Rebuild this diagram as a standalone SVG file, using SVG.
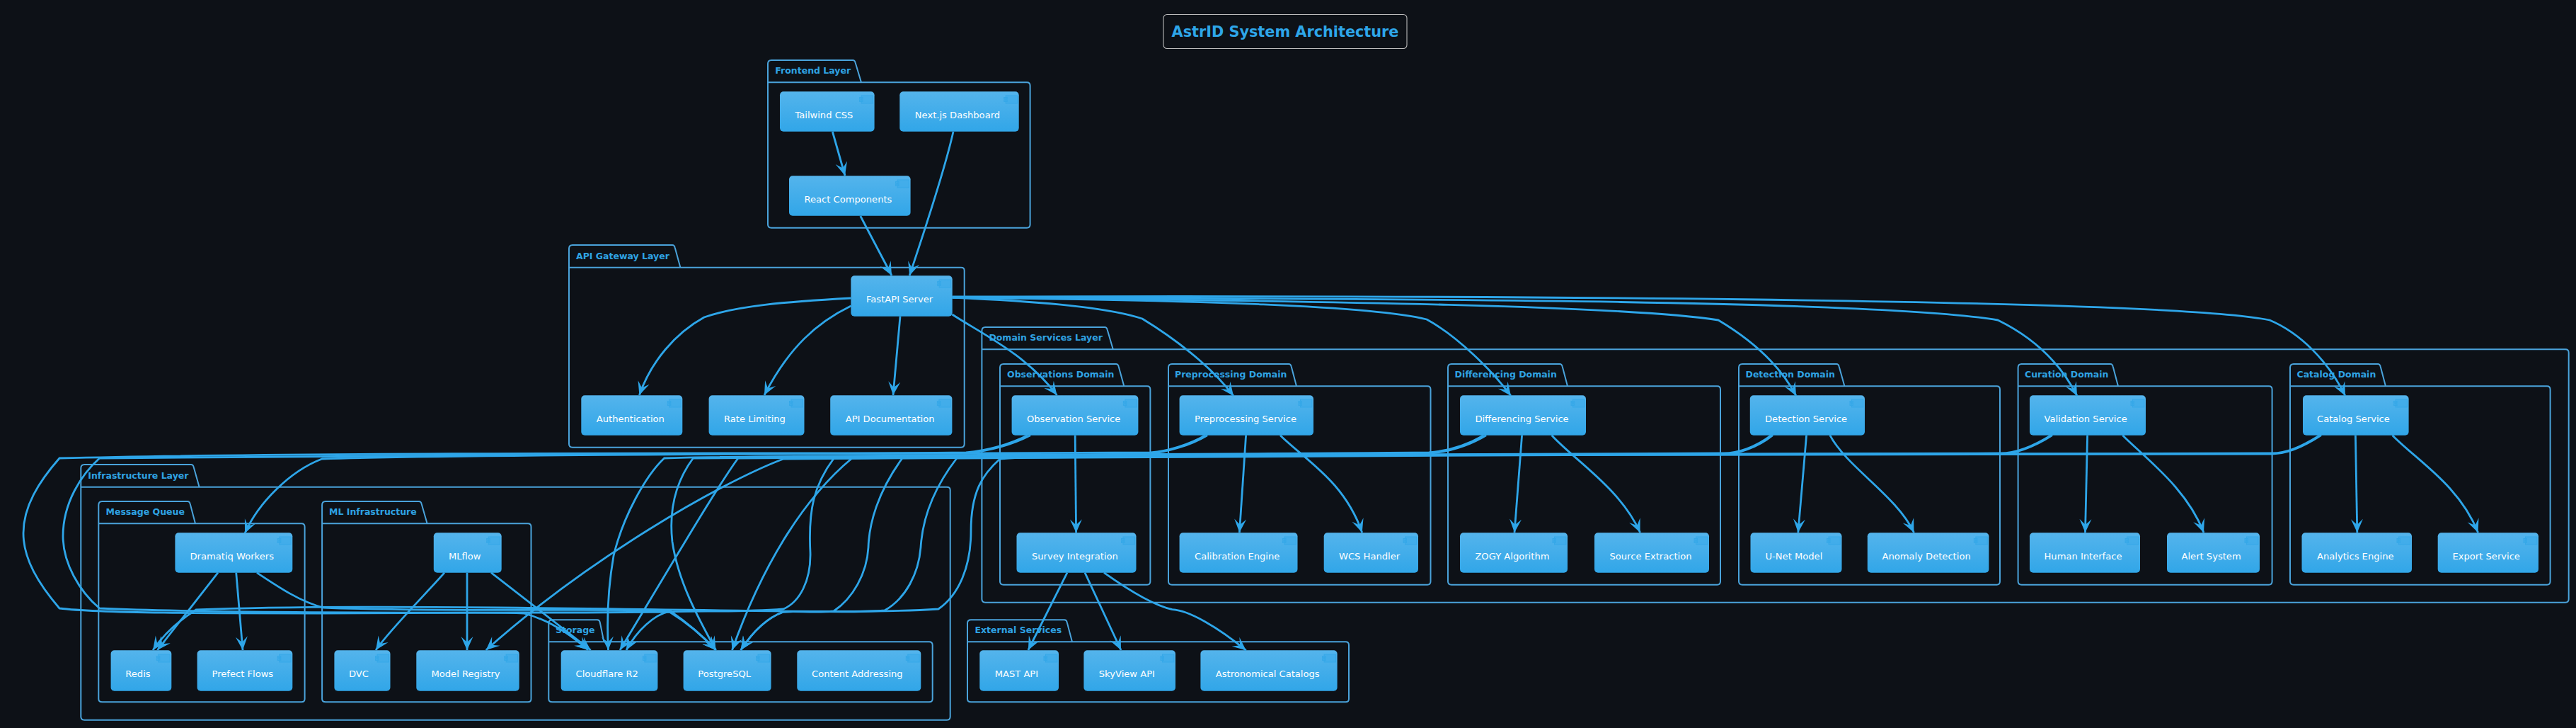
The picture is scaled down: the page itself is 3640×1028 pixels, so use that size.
<svg xmlns="http://www.w3.org/2000/svg" xmlns:xlink="http://www.w3.org/1999/xlink" width="3640" height="1028" viewBox="0 0 3640 1028">
<style>
.bg{fill:#0d1117}
.pk{fill:none;stroke:#4aa3db;stroke-width:2}
.pl{font:bold 12.5px "DejaVu Sans",sans-serif;fill:#2fa3e3}
.n{fill:url(#ng);rx:5px;ry:5px}
.t{font:13.1px "DejaVu Sans",sans-serif;fill:#fff}
.e{fill:none;stroke:#2ea6e9;stroke-width:2.8;marker-end:url(#arrow)}
.ttl{font:bold 20.8px "DejaVu Sans",sans-serif;fill:#2ea6e9;text-anchor:middle}
.tb{fill:none;stroke:#bbb;stroke-width:1.1}
</style>
<defs>
<linearGradient id="ng" x1="0" y1="0" x2="0" y2="1"><stop offset="0" stop-color="#54b4ec"/><stop offset="1" stop-color="#31a6e8"/></linearGradient>
<marker id="arrow" markerUnits="userSpaceOnUse" markerWidth="24" markerHeight="20" refX="22" refY="10" orient="auto"><path d="M22,10 L3,1.5 L11,10 L3,18.5 Z" fill="#2ea6e9"/></marker>
<g id="ic" fill="#3aa9e9" fill-opacity="0.55" stroke="#36a8e8" stroke-width="1"><rect x="-18.5" y="5.7" width="16.3" height="11"/><rect x="-21" y="8.2" width="4.5" height="2.4"/><rect x="-21" y="11.7" width="4.5" height="2.4"/></g>
</defs>
<rect class="bg" width="3640" height="1028"/>
<g id="title"><rect class="tb" x="1644" y="20.5" width="344" height="48" rx="5"/><text class="ttl" x="1816" y="51.7">AstrID System Architecture</text></g>

<g id="packages">
<g id="pkg-frontend"><path class="pk" d="M1085,116.3V90Q1085,85 1090,85H1205Q1208,85 1208.8,89L1217,116.3M1085,116.3H1451Q1455.6,116.3 1455.6,121V317Q1455.6,321.7 1451,321.7H1090Q1085,321.7 1085,317Z"/><text class="pl" x="1095.3" y="104.3">Frontend Layer</text></g>
<g id="pkg-api"><path class="pk" d="M804,377.7V351Q804,346 809,346H950Q953,346 953.8,350L961.4,377.7M804,377.7H1358Q1362.7,377.7 1362.7,382V627Q1362.7,631.7 1358,631.7H809Q804,631.7 804,627Z"/><text class="pl" x="814" y="365.7">API Gateway Layer</text></g>
<g id="pkg-domain"><path class="pk" d="M1387.4,493.3V467Q1387.4,462 1392.4,462H1561Q1564,462 1564.8,466L1572.8,493.3M1387.4,493.3H3625Q3629.7,493.3 3629.7,498V846Q3629.7,850.7 3625,850.7H1392.4Q1387.4,850.7 1387.4,846Z"/><text class="pl" x="1397.4" y="481.3">Domain Services Layer</text></g>
<g id="pkg-obs"><path class="pk" d="M1413,545.3V519Q1413,514 1418,514H1577Q1580,514 1580.8,518L1588.3,545.3M1413,545.3H1621Q1625.4,545.3 1625.4,550V821Q1625.4,825.7 1621,825.7H1418Q1413,825.7 1413,821Z"/><text class="pl" x="1423" y="533.3">Observations Domain</text></g>
<g id="pkg-pre"><path class="pk" d="M1651,545.3V519Q1651,514 1656,514H1821Q1824,514 1824.8,518L1832,545.3M1651,545.3H2017Q2021.5,545.3 2021.5,550V821Q2021.5,825.7 2017,825.7H1656Q1651,825.7 1651,821Z"/><text class="pl" x="1660" y="533.3">Preprocessing Domain</text></g>
<g id="pkg-diff"><path class="pk" d="M2046,545.3V519Q2046,514 2051,514H2204Q2207,514 2207.8,518L2215,545.3M2046,545.3H2426.5Q2431,545.3 2431,550V821Q2431,825.7 2426.5,825.7H2051Q2046,825.7 2046,821Z"/><text class="pl" x="2055.5" y="533.3">Differencing Domain</text></g>
<g id="pkg-det"><path class="pk" d="M2457,545.3V519Q2457,514 2462,514H2595Q2598,514 2598.8,518L2606.4,545.3M2457,545.3H2821.5Q2826,545.3 2826,550V821Q2826,825.7 2821.5,825.7H2462Q2457,825.7 2457,821Z"/><text class="pl" x="2466.5" y="533.3">Detection Domain</text></g>
<g id="pkg-cur"><path class="pk" d="M2851.6,545.3V519Q2851.6,514 2856.6,514H2982Q2985,514 2985.8,518L2993,545.3M2851.6,545.3H3206Q3210.6,545.3 3210.6,550V821Q3210.6,825.7 3206,825.7H2856.6Q2851.6,825.7 2851.6,821Z"/><text class="pl" x="2861" y="533.3">Curation Domain</text></g>
<g id="pkg-cat"><path class="pk" d="M3236,545.3V519Q3236,514 3241,514H3360Q3363,514 3363.8,518L3371,545.3M3236,545.3H3599Q3603.6,545.3 3603.6,550V821Q3603.6,825.7 3599,825.7H3241Q3236,825.7 3236,821Z"/><text class="pl" x="3245.5" y="533.3">Catalog Domain</text></g>
<g id="pkg-infra"><path class="pk" d="M114.3,687.7V661Q114.3,656 119.3,656H270Q273,656 273.8,660L281.6,687.7M114.3,687.7H1338Q1342.7,687.7 1342.7,692V1012Q1342.7,1016.7 1338,1016.7H119.3Q114.3,1016.7 114.3,1012Z"/><text class="pl" x="124.3" y="675.7">Infrastructure Layer</text></g>
<g id="pkg-mq"><path class="pk" d="M139.3,739.3V713Q139.3,708 144.3,708H265Q268,708 268.8,712L276,739.3M139.3,739.3H426Q430.6,739.3 430.6,744V987Q430.6,991.3 426,991.3H144.3Q139.3,991.3 139.3,987Z"/><text class="pl" x="149.5" y="727.3">Message Queue</text></g>
<g id="pkg-ml"><path class="pk" d="M455.1,739.3V713Q455.1,708 460.1,708H592Q595,708 595.8,712L603.6,739.3M455.1,739.3H746Q750.5,739.3 750.5,744V987Q750.5,991.3 746,991.3H460.1Q455.1,991.3 455.1,987Z"/><text class="pl" x="465" y="727.3">ML Infrastructure</text></g>
<g id="pkg-storage"><path class="pk" d="M775.3,906.3V880Q775.3,875.3 780.3,875.3H844Q847,875.3 847.8,879L853.4,906.3M775.3,906.3H1313Q1317.7,906.3 1317.7,911V987Q1317.7,991.3 1313,991.3H780.3Q775.3,991.3 775.3,987Z"/><text class="pl" x="785" y="894.3">Storage</text></g>
<g id="pkg-ext"><path class="pk" d="M1367,906.3V880Q1367,875.3 1372,875.3H1504Q1507,875.3 1507.8,879L1515,906.3M1367,906.3H1901.5Q1906,906.3 1906,911V987Q1906,991.3 1901.5,991.3H1372Q1367,991.3 1367,987Z"/><text class="pl" x="1377.5" y="894.3">External Services</text></g>
</g>

<g id="nodes">
<g id="tailwind"><rect class="n" x="1102" y="129.3" width="133.6" height="56.4"/><use href="#ic" x="1235.6" y="129.3"/><text class="t" x="1123.4" y="167.3">Tailwind CSS</text></g>
<g id="nextjs"><rect class="n" x="1271.3" y="129.3" width="168.4" height="56.4"/><use href="#ic" x="1439.7" y="129.3"/><text class="t" x="1292.8" y="167.3">Next.js Dashboard</text></g>
<g id="react"><rect class="n" x="1115" y="248.3" width="171.6" height="56.4"/><use href="#ic" x="1286.6" y="248.3"/><text class="t" x="1136.5" y="286.3">React Components</text></g>
<g id="fastapi"><rect class="n" x="1202.4" y="389.3" width="143.3" height="57.4"/><use href="#ic" x="1345.7" y="389.3"/><text class="t" x="1224" y="427.3">FastAPI Server</text></g>
<g id="auth"><rect class="n" x="821.3" y="558.3" width="143" height="56.4"/><use href="#ic" x="964.3" y="558.3"/><text class="t" x="842.8" y="596.3">Authentication</text></g>
<g id="rate"><rect class="n" x="1001.6" y="558.3" width="134.9" height="56.4"/><use href="#ic" x="1136.5" y="558.3"/><text class="t" x="1023" y="596.3">Rate Limiting</text></g>
<g id="apidoc"><rect class="n" x="1173.2" y="558.3" width="172.2" height="56.4"/><use href="#ic" x="1345.4" y="558.3"/><text class="t" x="1194.7" y="596.3">API Documentation</text></g>
<g id="obs"><rect class="n" x="1429.6" y="558.3" width="178.8" height="56.4"/><use href="#ic" x="1608.4" y="558.3"/><text class="t" x="1451" y="596.3">Observation Service</text></g>
<g id="survey"><rect class="n" x="1436.5" y="752.3" width="169" height="56.4"/><use href="#ic" x="1605.5" y="752.3"/><text class="t" x="1458" y="790.3">Survey Integration</text></g>
<g id="pre"><rect class="n" x="1666.6" y="558.3" width="189.4" height="56.4"/><use href="#ic" x="1856" y="558.3"/><text class="t" x="1688" y="596.3">Preprocessing Service</text></g>
<g id="calib"><rect class="n" x="1666.6" y="752.3" width="166.9" height="56.4"/><use href="#ic" x="1833.5" y="752.3"/><text class="t" x="1688" y="790.3">Calibration Engine</text></g>
<g id="wcs"><rect class="n" x="1870.7" y="752.3" width="133.3" height="56.4"/><use href="#ic" x="2004" y="752.3"/><text class="t" x="1892" y="790.3">WCS Handler</text></g>
<g id="diff"><rect class="n" x="2063" y="558.3" width="178" height="56.4"/><use href="#ic" x="2241" y="558.3"/><text class="t" x="2084.4" y="596.3">Differencing Service</text></g>
<g id="zogy"><rect class="n" x="2063" y="752.3" width="152" height="56.4"/><use href="#ic" x="2215" y="752.3"/><text class="t" x="2084.4" y="790.3">ZOGY Algorithm</text></g>
<g id="source"><rect class="n" x="2253" y="752.3" width="162" height="56.4"/><use href="#ic" x="2415" y="752.3"/><text class="t" x="2274.5" y="790.3">Source Extraction</text></g>
<g id="det"><rect class="n" x="2472.8" y="558.3" width="162.2" height="56.4"/><use href="#ic" x="2635" y="558.3"/><text class="t" x="2494" y="596.3">Detection Service</text></g>
<g id="unet"><rect class="n" x="2473.5" y="752.3" width="129" height="56.4"/><use href="#ic" x="2602.5" y="752.3"/><text class="t" x="2494.5" y="790.3">U-Net Model</text></g>
<g id="anomaly"><rect class="n" x="2638.8" y="752.3" width="171.6" height="56.4"/><use href="#ic" x="2810.4" y="752.3"/><text class="t" x="2659.5" y="790.3">Anomaly Detection</text></g>
<g id="valid"><rect class="n" x="2868" y="558.3" width="164" height="56.4"/><use href="#ic" x="3032" y="558.3"/><text class="t" x="2888.5" y="596.3">Validation Service</text></g>
<g id="human"><rect class="n" x="2868" y="752.3" width="156" height="56.4"/><use href="#ic" x="3024" y="752.3"/><text class="t" x="2888.5" y="790.3">Human Interface</text></g>
<g id="alert"><rect class="n" x="3062" y="752.3" width="131" height="56.4"/><use href="#ic" x="3193" y="752.3"/><text class="t" x="3082.5" y="790.3">Alert System</text></g>
<g id="catalog"><rect class="n" x="3254" y="558.3" width="149.6" height="56.4"/><use href="#ic" x="3403.6" y="558.3"/><text class="t" x="3274" y="596.3">Catalog Service</text></g>
<g id="analytics"><rect class="n" x="3252.5" y="752.3" width="155.5" height="56.4"/><use href="#ic" x="3408" y="752.3"/><text class="t" x="3274" y="790.3">Analytics Engine</text></g>
<g id="export"><rect class="n" x="3444.7" y="752.3" width="142.3" height="56.4"/><use href="#ic" x="3587" y="752.3"/><text class="t" x="3465.5" y="790.3">Export Service</text></g>
<g id="dramatiq"><rect class="n" x="247.4" y="752.3" width="165.9" height="56.4"/><use href="#ic" x="413.3" y="752.3"/><text class="t" x="268.5" y="790.3">Dramatiq Workers</text></g>
<g id="redis"><rect class="n" x="156.6" y="918.3" width="85.7" height="57.4"/><use href="#ic" x="242.3" y="918.3"/><text class="t" x="177.3" y="956.3">Redis</text></g>
<g id="prefect"><rect class="n" x="278.6" y="918.3" width="134.7" height="57.4"/><use href="#ic" x="413.3" y="918.3"/><text class="t" x="299.5" y="956.3">Prefect Flows</text></g>
<g id="mlflow"><rect class="n" x="612.8" y="752.3" width="95.9" height="56.4"/><use href="#ic" x="708.7" y="752.3"/><text class="t" x="634" y="790.3">MLflow</text></g>
<g id="dvc"><rect class="n" x="472.4" y="918.3" width="79.1" height="57.4"/><use href="#ic" x="551.5" y="918.3"/><text class="t" x="493" y="956.3">DVC</text></g>
<g id="registry"><rect class="n" x="588.3" y="918.3" width="145.4" height="57.4"/><use href="#ic" x="733.7" y="918.3"/><text class="t" x="609.5" y="956.3">Model Registry</text></g>
<g id="r2"><rect class="n" x="792.7" y="918.3" width="136.7" height="57.4"/><use href="#ic" x="929.4" y="918.3"/><text class="t" x="813.5" y="956.3">Cloudflare R2</text></g>
<g id="postgres"><rect class="n" x="965.6" y="918.3" width="124" height="57.4"/><use href="#ic" x="1089.6" y="918.3"/><text class="t" x="986.3" y="956.3">PostgreSQL</text></g>
<g id="content"><rect class="n" x="1126.3" y="918.3" width="175" height="57.4"/><use href="#ic" x="1301.3" y="918.3"/><text class="t" x="1147" y="956.3">Content Addressing</text></g>
<g id="mast"><rect class="n" x="1384.3" y="918.3" width="111.7" height="57.4"/><use href="#ic" x="1496" y="918.3"/><text class="t" x="1405.7" y="956.3">MAST API</text></g>
<g id="skyview"><rect class="n" x="1531.4" y="918.3" width="129.6" height="57.4"/><use href="#ic" x="1661" y="918.3"/><text class="t" x="1552.8" y="956.3">SkyView API</text></g>
<g id="astro"><rect class="n" x="1696.4" y="918.3" width="193.2" height="57.4"/><use href="#ic" x="1889.6" y="918.3"/><text class="t" x="1717.8" y="956.3">Astronomical Catalogs</text></g>
</g>

<g id="connectors">
<path class="e" d="M1176.4,186L1194,248"/>
<path class="e" d="M1347,186C1335,240 1305,330 1285.2,389"/>
<path class="e" d="M1215.8,305L1260,389"/>
<path class="e" d="M1202.4,421C1110,426 1040,432 995,448C955,470 920,510 903.4,558"/>
<path class="e" d="M1202.4,432C1155,455 1115,490 1080,558"/>
<path class="e" d="M1272,446.7L1262,558"/>
<path class="e" d="M1345.5,444C1385,470 1450,500 1493.5,558"/>
<path class="e" d="M1345.5,420C1450,425 1560,432 1614,450C1655,475 1710,515 1743,559"/>
<path class="e" d="M1345.5,420C1700,424 1940,432 2016,451C2060,475 2110,525 2135,559"/>
<path class="e" d="M1345.5,420C1900,425 2300,432 2428,452C2475,480 2515,515 2538,559"/>
<path class="e" d="M1345.5,420C1900,422 2650,422 2823,452C2870,475 2910,510 2935,559"/>
<path class="e" d="M1345.5,419C2000,417 3050,420 3207,452C3250,470 3290,510 3314,559"/>

<path class="e" d="M1519.2,614.7L1520.6,752.3"/>
<path class="e" d="M1508,808.7L1452.9,918"/>
<path class="e" d="M1533,808.7L1584,918"/>
<path class="e" d="M1560,808.7C1590,830 1630,855 1656.4,860.7C1680,862 1720,885 1760.7,918.3"/>
<path class="e" d="M1760.6,614.7L1751.4,752"/>
<path class="e" d="M1809,614.7C1845,650 1900,680 1924.7,752"/>
<path class="e" d="M2150.6,614.7L2140,752"/>
<path class="e" d="M2192.7,614.7C2225,650 2290,690 2317.6,752"/>
<path class="e" d="M2552.6,614.7L2540.8,752"/>
<path class="e" d="M2585.8,614.7C2610,660 2680,700 2704.5,752"/>
<path class="e" d="M2949.6,614.7L2946.5,752"/>
<path class="e" d="M2999.4,614.7C3035,650 3090,690 3114,752"/>
<path class="e" d="M3328.4,614.7L3330.8,752"/>
<path class="e" d="M3380.6,614.7C3415,650 3475,685 3501.6,752"/>

<path class="e" d="M308,808.7L222.4,918"/>
<path class="e" d="M333.7,808.7L343,918"/>
<path class="e" d="M628,808.7C610,830 550,890 531,918"/>
<path class="e" d="M660,808.7V918"/>
<path class="e" d="M694,808.7L834.7,918"/>
<path class="e" d="M363,808.7C395,830 425,850 457,858C600,864 800,860 946,862C972,880 995,900 1011.5,918"/>

<path class="e" d="M1452,614.7C1425,628 1395,636 1365,639C1100,642 700,641 455,648C410,665 365,710 346,753"/>
<path class="e" d="M1456,614.7C1428,629 1395,637 1365,640C1000,640 400,639 84,647C55,680 33,715 33,753C33,790 55,825 84,859C140,866 300,866 450,866C600,866 700,864 740,866C775,875 805,895 831,918"/>
<path class="e" d="M1703,614.7C1680,628 1650,637 1626,639C1400,641 500,641 140.6,647C115,670 89,710 89,757C89,795 112,835 140.6,859C300,866 600,865 800,865C880,865 930,864 946,864C972,880 995,900 1011.5,918"/>
<path class="e" d="M1706,614.7C1682,629 1650,638 1626,640.5C1550,641.5 1470,644 1413,648C1388,670 1372,695 1372,750C1372,800 1355,840 1326,860C1200,868 1000,860 700,858C500,856 350,858 277,861C250,878 232,895 216,918"/>
<path class="e" d="M2096.6,614.7C2070,630 2045,637 2019,639C1700,642 1100,642 938.6,647C912,672 880,730 867,785C860,825 857,870 859.5,918"/>
<path class="e" d="M2100,614.7C2073,631 2045,638 2019,640.5C1700,643 1200,643 979.4,647C955,680 945,720 950,765C958,820 985,870 1011.5,918"/>
<path class="e" d="M2502.8,614.7C2480,632 2455,640 2435.6,640C2100,642 1400,643 1043,647C1015,685 950,795 876,918"/>
<path class="e" d="M2505,614.7C2482,633 2455,641 2435.6,641.5C2100,643 1400,643 1107,648C1017,682 830,790 686.7,918"/>
<path class="e" d="M2898,614.7C2870,632 2845,640 2827,640C2500,641 1600,642 1178.4,647C1150,685 1142,720 1145,780C1146,820 1130,850 1107,860C1040,865 990,862 944,864C925,868 900,890 885,918"/>
<path class="e" d="M2900,614.7C2872,633 2845,641 2827,641C2500,642 1600,642 1204,647C1140,700 1080,790 1034.5,918"/>
<path class="e" d="M3277.8,614.7C3250,632 3230,640 3210.6,640C3000,640 1800,641 1275,647C1240,695 1228,740 1227,773C1225,810 1205,845 1178,863C1150,866 1125,862 1107,864C1085,872 1065,890 1046.7,918"/>
<path class="e" d="M3280,614.7C3252,633 3230,641 3210.6,641C3000,641 1800,642 1352,647C1315,695 1303,740 1301,773C1298,810 1280,845 1250,862C1200,866 1150,862 1107,864C1085,872 1065,890 1046.7,918"/>
</g>
</svg>
